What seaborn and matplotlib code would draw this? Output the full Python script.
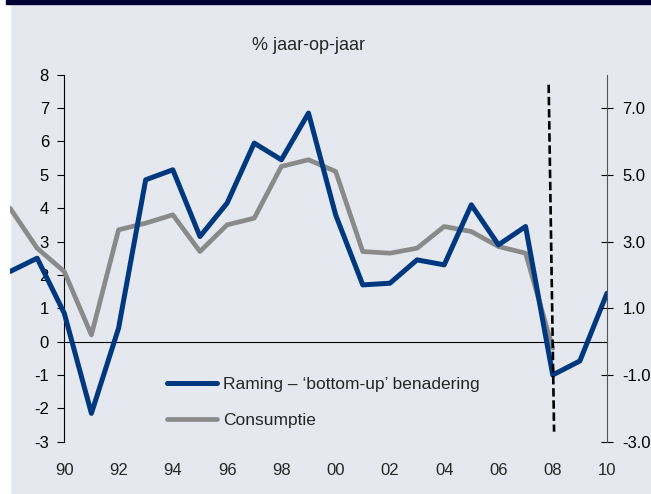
import matplotlib
matplotlib.use("Agg")
import matplotlib.pyplot as plt
from matplotlib.patches import Rectangle
import pandas as pd
import seaborn as sns

# data (% year on year)
years_raming = list(range(1988, 2011))
raming = [2.1, 2.5, 0.85, -2.15, 0.4, 4.85, 5.15, 3.15, 4.15, 5.95, 5.45, 6.85,
          3.8, 1.7, 1.75, 2.45, 2.3, 4.1, 2.9, 3.45, -1.0, -0.58, 1.45]
years_cons = list(range(1988, 2009))
consumptie = [4.0, 2.8, 2.1, 0.2, 3.35, 3.55, 3.8, 2.7, 3.5, 3.7, 5.25, 5.45,
              5.1, 2.7, 2.65, 2.8, 3.45, 3.3, 2.85, 2.65, -0.2]
xtick_years = list(range(1990, 2011, 2))
xtick_labels = ["90", "92", "94", "96", "98", "00", "02", "04", "06", "08", "10"]
left_ticks = list(range(-3, 9))
right_ticks = [-3, -1, 1, 3, 5, 7]
break_x = [2007.85, 2008.05]
break_y = [7.7, -2.7]

df_r = pd.DataFrame({"jaar": years_raming, "waarde": raming})
df_c = pd.DataFrame({"jaar": years_cons, "waarde": consumptie})

sns.set_style("white")
plt.rcParams["font.family"] = ["Liberation Sans", "DejaVu Sans"]
plt.rcParams["axes.unicode_minus"] = False

bg = "#e5e8ef"
blue = "#00387f"
grey = "#8a8a8a"

W, H = 651, 494
fig = plt.figure(figsize=(W / 100, H / 100), dpi=100, facecolor=bg)
ax = fig.add_axes([10 / W, 1 - 441.7 / H, (607 - 10) / W, (441.7 - 74.7) / H])
ax.set_facecolor("none")

# frame decorations
fig.add_artist(Rectangle((0, 0), 10 / W, 1, transform=fig.transFigure,
                         color="white", zorder=-5))
fig.add_artist(Rectangle((6 / W, 1 - 4 / H), 1, 4 / H, transform=fig.transFigure,
                         color="#000033", zorder=5))

sns.lineplot(data=df_c, x="jaar", y="waarde", ax=ax, color=grey, lw=3.4,
             label="Consumptie", zorder=3)
sns.lineplot(data=df_r, x="jaar", y="waarde", ax=ax, color=blue, lw=3.6,
             label="Raming – ‘bottom-up’ benadering", zorder=4)
ax.plot(break_x, break_y, color="black", lw=1.9, dashes=(3.2, 1.4), zorder=6,
        clip_on=False)

ax.set_xlim(1988, 2010)
ax.set_ylim(-3, 8)
ax.set_xlabel("")
ax.set_ylabel("")

# left axis sits at 1990
ax.spines["left"].set_position(("data", 1990))
ax.spines["left"].set_color("black")
ax.spines["left"].set_linewidth(0.8)
ax.set_yticks(left_ticks)
ax.tick_params(axis="y", direction="out", length=5, width=0.8, pad=6,
               labelsize=12, colors="black")

# zero line acts as x axis
ax.spines["bottom"].set_position(("data", 0))
ax.spines["bottom"].set_bounds(1990, 2010)
ax.spines["bottom"].set_color("black")
ax.spines["bottom"].set_linewidth(0.8)
ax.set_xticks(xtick_years)
ax.tick_params(axis="x", direction="out", length=3, width=0.8, labelbottom=False,
               colors="black")
ax.spines["top"].set_visible(False)
ax.spines["right"].set_visible(False)

# year labels along the bottom
sec = ax.secondary_xaxis("bottom")
sec.set_xticks(xtick_years, xtick_labels)
sec.spines["bottom"].set_visible(False)
sec.tick_params(length=0, pad=15, labelsize=12)

# right axis
ax2 = ax.twinx()
ax2.set_ylim(-3, 8)
ax2.set_yticks(right_ticks, [f"{v:.1f}" for v in right_ticks])
for s in ["left", "top", "bottom"]:
    ax2.spines[s].set_visible(False)
ax2.spines["right"].set_color("#555555")
ax2.spines["right"].set_linewidth(0.8)
ax2.tick_params(axis="y", direction="inout", length=8, width=0.8, pad=7,
                labelsize=12, colors="black")
ax2.patch.set_visible(False)

# legend: blue first
handles, labels = ax.get_legend_handles_labels()
ax.legend(handles[::-1], labels[::-1], loc="upper left",
          bbox_to_anchor=(167 / W, 1 - 377 / H), bbox_transform=fig.transFigure,
          frameon=False, fontsize=12.5, handlelength=2.9, handletextpad=0.35,
          labelspacing=1.2, borderpad=0, borderaxespad=0)

fig.text(309 / W, 1 - 45 / H, "% jaar-op-jaar", ha="center", va="center",
         fontsize=13)

fig.savefig("out.png", dpi=100, facecolor=bg)
